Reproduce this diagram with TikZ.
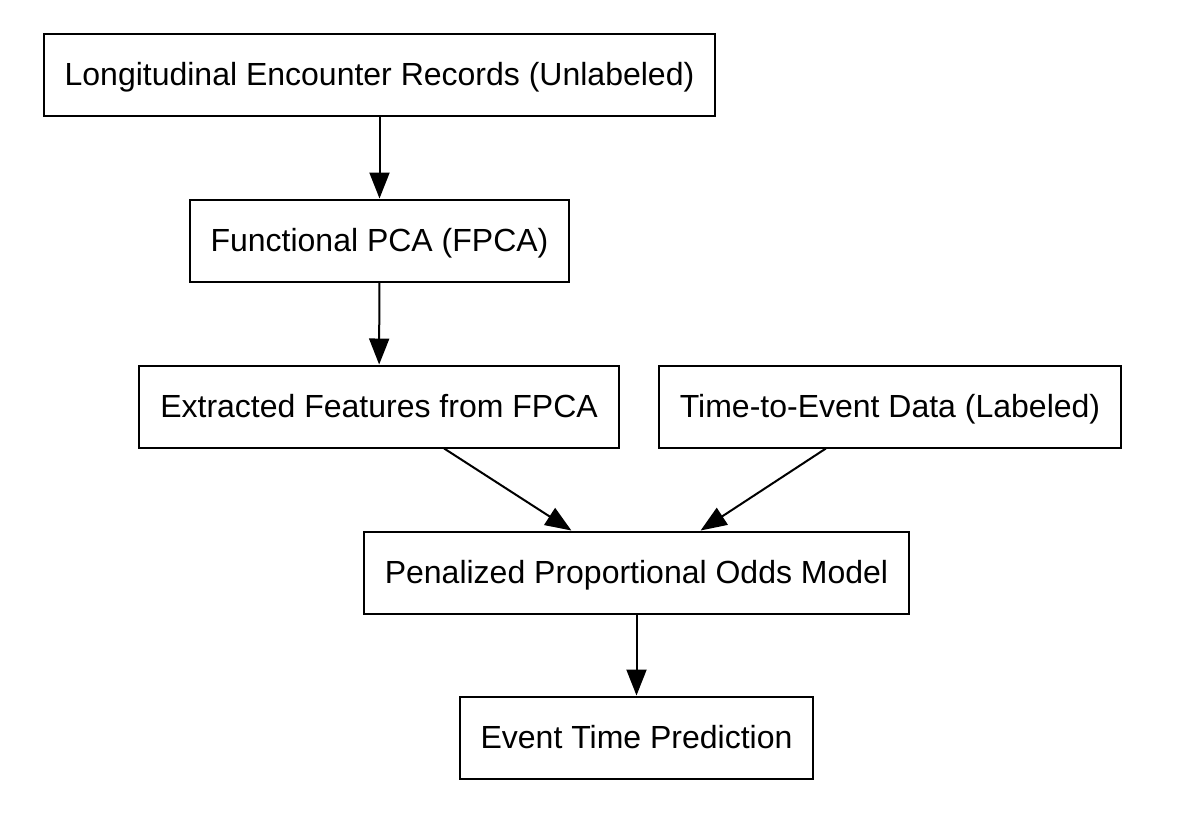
\documentclass[tikz,border=0pt]{standalone}
\usepackage{fontspec}
\setmainfont{Liberation Sans}
\usetikzlibrary{arrows.meta}
\tikzset{
    stagebox/.style={draw, line width=1pt, minimum height=41pt, inner xsep=10.5pt, text height=11.5pt, text depth=0.6pt, font=\fontsize{16pt}{19pt}\selectfont},
    flow/.style={-{Triangle[length=13pt, width=10pt]}, line width=1pt}
}
\begin{document}
\begin{tikzpicture}[x=0.5pt, y=-0.5pt]
                \useasboundingbox (0,0) rectangle (1194,816);
                % pipeline stages
                \node[stagebox] (records) at (379.5,75) {Longitudinal Encounter Records (Unlabeled)};
                \node[stagebox] (fpca) at (379.5,240.5) {Functional PCA (FPCA)};
                \node[stagebox] (features) at (379,406.5) {Extracted Features from FPCA};
                \node[stagebox] (events) at (890,406.5) {Time-to-Event Data (Labeled)};
                \node[stagebox] (model) at (636.5,572.5) {Penalized Proportional Odds Model};
                \node[stagebox] (predict) at (636.5,737.5) {Event Time Prediction};
                % connectors
                \draw[flow] (records) -- (fpca);
                \draw[flow] (fpca) -- (features);
                \draw[flow] (features) -- (model);
                \draw[flow] (events) -- (model);
                \draw[flow] (model) -- (predict);
            \end{tikzpicture}
\end{document}
